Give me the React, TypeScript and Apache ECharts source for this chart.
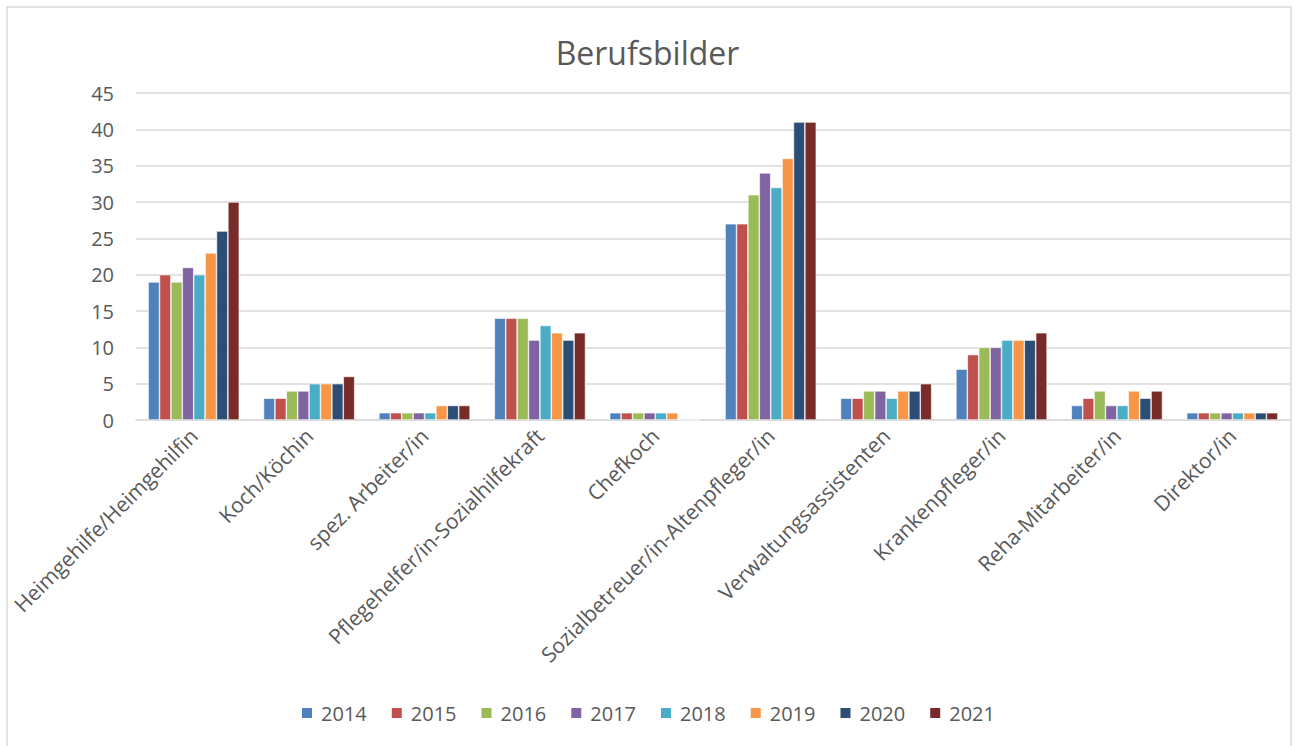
import React, { useEffect, useRef } from "react";
import * as echarts from "echarts";

const categories = [
  "Heimgehilfe/Heimgehilfin",
  "Koch/Köchin",
  "spez. Arbeiter/in",
  "Pflegehelfer/in-Sozialhilfekraft",
  "Chefkoch",
  "Sozialbetreuer/in-Altenpfleger/in",
  "Verwaltungsassistenten",
  "Krankenpfleger/in",
  "Reha-Mitarbeiter/in",
  "Direktor/in",
];

const years = ["2014", "2015", "2016", "2017", "2018", "2019", "2020", "2021"];

const v2014 = [19, 3, 1, 14, 1, 27, 3, 7, 2, 1];
const v2015 = [20, 3, 1, 14, 1, 27, 3, 9, 3, 1];
const v2016 = [19, 4, 1, 14, 1, 31, 4, 10, 4, 1];
const v2017 = [21, 4, 1, 11, 1, 34, 4, 10, 2, 1];
const v2018 = [20, 5, 1, 13, 1, 32, 3, 11, 2, 1];
const v2019 = [23, 5, 2, 12, 1, 36, 4, 11, 4, 1];
const v2020 = [26, 5, 2, 11, 0, 41, 4, 11, 3, 1];
const v2021 = [30, 6, 2, 12, 0, 41, 5, 12, 4, 1];

const seriesValues = [v2014, v2015, v2016, v2017, v2018, v2019, v2020, v2021];

const colors = ["#4F81BD", "#C0504D", "#9BBB59", "#8064A2", "#4BACC6", "#F79646", "#2C4D75", "#772C2A"];

const yTicks = { min: 0, max: 45, interval: 5 };

export default function App() {
  const ref = useRef<HTMLDivElement>(null);
  useEffect(() => {
    if (!ref.current) return;
    const chart = echarts.init(ref.current, null, { renderer: "svg" });
    const font = "Open Sans, Noto Sans, sans-serif";
    chart.setOption({
      animation: false,
      color: colors,
      textStyle: { fontFamily: font },
      title: {
        text: "Berufsbilder",
        left: "center",
        top: 31,
        textStyle: { fontSize: 32, fontWeight: "normal", color: "#595959", fontFamily: font },
      },
      graphic: [
        {
          type: "rect",
          shape: { x: 7, y: 7, width: 1284, height: 800 },
          style: { fill: "none", stroke: "#d9d9d9", lineWidth: 1.5 },
          silent: true,
        },
      ],
      grid: { left: 136, right: 5, top: 93, bottom: 326, containLabel: false },
      legend: {
        bottom: 18,
        left: "center",
        itemWidth: 12,
        itemHeight: 12,
        itemGap: 23,
        icon: "rect",
        textStyle: { fontSize: 20, color: "#595959", fontFamily: font, padding: [0, 0, 0, 3] },
        data: years,
      },
      xAxis: {
        type: "category",
        data: categories,
        axisLine: { lineStyle: { color: "#d9d9d9", width: 1.5 } },
        axisTick: { show: false },
        axisLabel: {
          rotate: 45,
          interval: 0,
          fontSize: 21,
          color: "#595959",
          margin: 12,
          fontFamily: font,
        },
      },
      yAxis: {
        type: "value",
        min: yTicks.min,
        max: yTicks.max,
        interval: yTicks.interval,
        axisLine: { show: false },
        axisTick: { show: false },
        splitLine: { lineStyle: { color: "#d9d9d9", width: 1.5 } },
        axisLabel: { fontSize: 20, color: "#595959", margin: 22, fontFamily: font },
      },
      series: years.map((y, i) => ({
        name: y,
        type: "bar",
        data: seriesValues[i],
        barGap: "0%",
        barCategoryGap: "21%",
        itemStyle: { color: colors[i], borderColor: "#ffffff", borderWidth: 0.6 },
      })),
    });
    return () => chart.dispose();
  }, []);
  return (
    <div style={{ position: "absolute", left: 0, top: 0, width: 1295, height: 746 }}>
      <div ref={ref} style={{ width: 1295, height: 746 }} />
    </div>
  );
}
